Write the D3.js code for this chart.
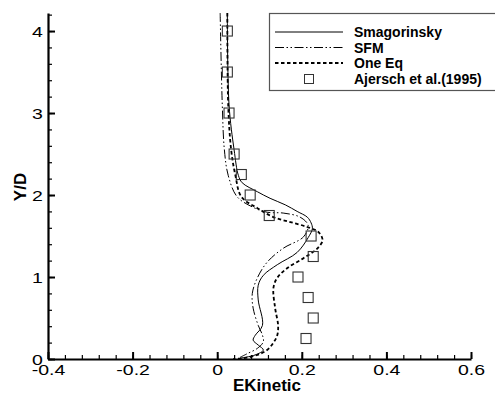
<!DOCTYPE html>
<html>
<head>
<meta charset="utf-8">
<script src="https://cdn.jsdelivr.net/npm/d3@7"></script>
<style>
  body { margin: 0; background: #fff; }
  svg { display: block; font-family: 'Liberation Sans', Arial, sans-serif; }
</style>
</head>
<body>
<div id="chart"></div>
<script>
// Smagorinsky (solid)
const smagX = [0.024, 0.028, 0.040, 0.050, 0.059, 0.095, 0.125, 0.161, 0.189, 0.213, 0.222, 0.225, 0.215, 0.189, 0.142, 0.109, 0.097, 0.097, 0.107, 0.090, 0.085, 0.097, 0.109, 0.090, 0.054];
const smagY = [4.22, 3.10, 2.55, 2.24, 2.15, 2.04, 1.96, 1.88, 1.80, 1.73, 1.66, 1.59, 1.48, 1.30, 1.15, 1.02, 0.90, 0.72, 0.41, 0.29, 0.23, 0.17, 0.11, 0.05, 0.01];

// SFM (dash dot)
const sfmX = [0.007, 0.012, 0.017, 0.026, 0.047, 0.085, 0.118, 0.156, 0.196, 0.215, 0.204, 0.156, 0.118, 0.095, 0.083, 0.085, 0.097, 0.107, 0.109, 0.095, 0.073, 0.054];
const sfmY = [4.22, 3.10, 2.55, 2.24, 1.98, 1.85, 1.79, 1.78, 1.73, 1.63, 1.49, 1.35, 1.18, 0.99, 0.80, 0.62, 0.41, 0.29, 0.21, 0.13, 0.07, 0.02];

// One Eq (dashed)
const oneEqX = [0.024, 0.026, 0.033, 0.043, 0.057, 0.095, 0.133, 0.173, 0.213, 0.239, 0.249, 0.237, 0.204, 0.166, 0.142, 0.133, 0.137, 0.144, 0.142, 0.133, 0.118, 0.095, 0.062, 0.038];
const oneEqY = [4.22, 3.10, 2.55, 2.24, 1.98, 1.84, 1.73, 1.67, 1.61, 1.55, 1.45, 1.35, 1.23, 1.11, 0.99, 0.87, 0.62, 0.41, 0.29, 0.20, 0.11, 0.05, 0.01, 0.0];

// Ajersch et al.(1995) experiment
const expX = [0.024, 0.024, 0.028, 0.040, 0.057, 0.078, 0.123, 0.222, 0.227, 0.191, 0.215, 0.227, 0.210];
const expY = [4.0, 3.5, 3.0, 2.5, 2.25, 2.0, 1.75, 1.5, 1.25, 1.0, 0.75, 0.5, 0.25];

const xTicks = [-0.4, -0.2, 0, 0.2, 0.4, 0.6];
const yTicks = [0, 1, 2, 3, 4];

const legendNames = ['Smagorinsky', 'SFM', 'One Eq', 'Ajersch et al.(1995)'];

const width = 495;
const height = 394;

const x = d3.scaleLinear().domain([-0.4, 0.6]).range([48, 471]);
const y = d3.scaleLinear().domain([0, 4.22]).range([359, 13]);

const svg = d3.select('#chart')
  .append('svg')
  .attr('width', width)
  .attr('height', height);

const fmt = d => String(+d.toFixed(1));

// minor ticks first, then the major axis over them
svg.append('g')
  .attr('transform', `translate(0,${y(0)})`)
  .call(d3.axisBottom(x).tickValues(d3.range(-0.4, 0.6001, 0.04)).tickSize(-4).tickSizeOuter(0).tickFormat(''))
  .call(g => g.select('.domain').remove())
  .call(g => g.selectAll('line').attr('stroke', '#000').attr('stroke-width', 1.2));

svg.append('g')
  .attr('transform', `translate(${x(-0.4)},0)`)
  .call(d3.axisLeft(y).tickValues(d3.range(0, 4.2001, 0.2)).tickSize(-4).tickSizeOuter(0).tickFormat(''))
  .call(g => g.select('.domain').remove())
  .call(g => g.selectAll('line').attr('stroke', '#000').attr('stroke-width', 1.2));

const xAxis = svg.append('g')
  .attr('transform', `translate(0,${y(0)})`)
  .call(d3.axisBottom(x).tickValues(xTicks).tickSize(-7).tickSizeOuter(0).tickFormat(fmt));
xAxis.select('.domain').attr('stroke-width', 2.2);
xAxis.selectAll('line').attr('stroke-width', 2);
xAxis.selectAll('text')
  .attr('font-size', 15)
  .attr('font-family', 'Liberation Sans, Arial, sans-serif')
  .attr('fill', '#000')
  .attr('transform', 'scale(1.3,1)')
  .attr('dy', '0.95em')
  .attr('y', 2);

const yAxis = svg.append('g')
  .attr('transform', `translate(${x(-0.4)},0)`)
  .call(d3.axisLeft(y).tickValues(yTicks).tickSize(-7).tickSizeOuter(0).tickFormat(fmt));
yAxis.select('.domain').attr('stroke-width', 2.2);
yAxis.selectAll('line').attr('stroke-width', 2);
yAxis.selectAll('text')
  .attr('font-size', 15)
  .attr('font-family', 'Liberation Sans, Arial, sans-serif')
  .attr('fill', '#000')
  .attr('x', -4)
  .attr('transform', 'scale(1.3,1)')
  .attr('dy', '0.35em');

// axis titles
svg.append('text')
  .attr('x', 267)
  .attr('y', 391)
  .attr('text-anchor', 'middle')
  .attr('font-size', 17)
  .attr('font-weight', 'bold')
  .text('EKinetic');

svg.append('text')
  .attr('transform', 'translate(26,187) rotate(-90)')
  .attr('text-anchor', 'middle')
  .attr('font-size', 17)
  .attr('font-weight', 'bold')
  .text('Y/D');

// curves
const line = d3.line()
  .x(d => x(d[0]))
  .y(d => y(d[1]))
  .curve(d3.curveCatmullRom);

const series = [
  { xs: smagX, ys: smagY, dash: null, w: 1 },
  { xs: sfmX, ys: sfmY, dash: '9,2.5,1.5,2.5,1.5,2.5', w: 1 },
  { xs: oneEqX, ys: oneEqY, dash: '3.5,2.5', w: 1.8 },
];

series.forEach(s => {
  svg.append('path')
    .datum(s.xs.map((v, i) => [v, s.ys[i]]))
    .attr('fill', 'none')
    .attr('stroke', '#000')
    .attr('stroke-width', s.w)
    .attr('stroke-dasharray', s.dash)
    .attr('d', line);
});

svg.append('g')
  .selectAll('rect')
  .data(expX.map((v, i) => [v, expY[i]]))
  .join('rect')
  .attr('x', d => x(d[0]) - 5)
  .attr('y', d => y(d[1]) - 5)
  .attr('width', 10)
  .attr('height', 10)
  .attr('fill', 'none')
  .attr('stroke', '#333')
  .attr('stroke-width', 1.1);

// legend
const legend = svg.append('g');
legend.append('rect')
  .attr('x', 269.5)
  .attr('y', 13.5)
  .attr('width', 240)
  .attr('height', 77)
  .attr('fill', '#fff')
  .attr('stroke', '#555')
  .attr('stroke-width', 1.2);

const rowY = [32, 47.5, 63, 79];
series.forEach((s, i) => {
  legend.append('line')
    .attr('x1', 275).attr('x2', 343)
    .attr('y1', rowY[i]).attr('y2', rowY[i])
    .attr('stroke', '#000')
    .attr('stroke-width', s.w)
    .attr('stroke-dasharray', s.dash);
});
legend.append('rect')
  .attr('x', 304.5).attr('y', rowY[3] - 4.5)
  .attr('width', 9).attr('height', 9)
  .attr('fill', 'none')
  .attr('stroke', '#333');

legend.selectAll('text.name')
  .data(legendNames)
  .join('text')
  .attr('class', 'name')
  .attr('x', 354)
  .attr('y', (d, i) => rowY[i] + 5)
  .attr('font-size', 14)
  .attr('font-weight', 'bold')
  .text(d => d);
</script>
</body>
</html>
